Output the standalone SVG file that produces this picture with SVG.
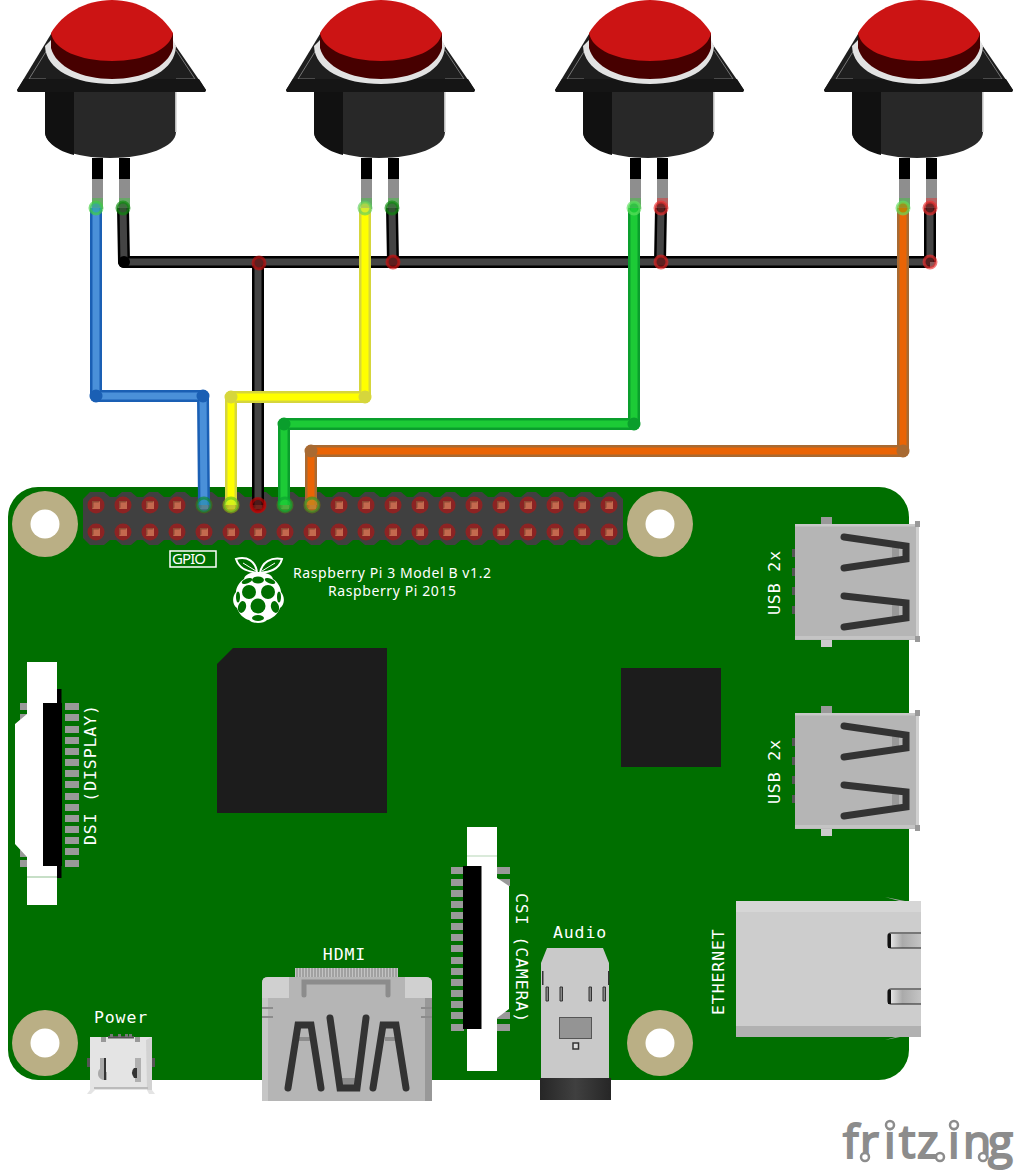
<svg xmlns="http://www.w3.org/2000/svg" width="1014" height="1170" viewBox="0 0 1014 1170">
<style>
.mono{font-family:"DejaVu Sans Mono","Liberation Mono",monospace;font-size:16.500px;letter-spacing:.9px;fill:#fff}
.sans{font-family:"Noto Sans","DejaVu Sans",sans-serif;font-size:14px;fill:#fff}
.wo{fill:none;stroke-width:12;stroke-linejoin:round;stroke-linecap:butt}
.wi{fill:none;stroke-width:7;stroke-linejoin:round;stroke-linecap:butt}
.slot{fill:none;stroke:#333;stroke-width:7;stroke-linecap:round;stroke-linejoin:miter}
.pad{fill:#999}
.ring{fill:#fff;stroke:#8c8c8c;stroke-width:2.500}
</style>
<defs>
<linearGradient id="jack"><stop offset="0" stop-color="#e8e8e8"/><stop offset=".4" stop-color="#aaa"/><stop offset="1" stop-color="#c4c4c4"/></linearGradient>
<linearGradient id="plug"><stop offset="0" stop-color="#262626"/><stop offset=".5" stop-color="#404040"/><stop offset="1" stop-color="#262626"/></linearGradient>
<g id="btn">
<path d="M51 34L17 90L18 92H205L206 90L173 42Z" fill="#1e1e1e"/>
<path d="M47 50L29 79H46M176 50L195 79H176" fill="none" stroke="#777" stroke-width="1"/>
<path d="M24 79L17 90L18 92H205L206 90L199 79Z" fill="#151515"/>
<path d="M45 92V132C45 147 75 158 110 158C146 158 176 147 176 132V92Z" fill="#282828"/>
<path d="M45 92V132C45 142 58 151 74 155V92Z" fill="#111"/>
<rect x="175" y="92" width="1.500" height="40" fill="#bbb"/>
<path d="M45 46C46 70 75 84 112 84C148 84 175 70 176 46L173 40V48L51 40Z" fill="#e2e2e2"/>
<path d="M51 33V48C56 67 82 79 112 79C142 79 168 67 173 48V33Z" fill="#470000"/>
<path d="M51 33C62 14 85 0 112 0C139 0 162 14 173 33C170 50 144 61 112 61C80 61 54 50 51 33Z" fill="#cc1414"/>
<rect x="92" y="158" width="11" height="21" fill="#000"/><rect x="92" y="179" width="11" height="30" fill="#8e8e8e"/>
<rect x="119" y="158" width="11" height="21" fill="#000"/><rect x="119" y="179" width="11" height="30" fill="#8e8e8e"/>
</g>
<g id="pin"><circle r="8.500" fill="#8c2323"/><rect x="-4" y="-4" width="8" height="8" fill="#c4694e"/><path d="M-4 -4h8l-1.500 1.500h-5v5l-1.500 1.500z" fill="#8f4a35"/></g>
<g id="hole"><circle r="33" fill="#baaf85"/><circle r="14.500" fill="#fff"/></g>
<g id="usb">
<rect x="821" y="517" width="11" height="8" fill="#999"/><rect x="821" y="639" width="11" height="8" fill="#ccc"/>
<path d="M792 549h3v8h-3zM792 568h3v8h-3zM792 587h3v8h-3zM792 606h3v8h-3z" fill="#555"/>
<rect x="795" y="524" width="122" height="116" fill="#b5b5b5"/>
<rect x="795" y="524" width="122" height="2.500" fill="#c8c8c8"/><rect x="795" y="636" width="122" height="3.500" fill="#c4c4c4"/>
<rect x="916" y="524" width="3" height="116" fill="#d0d0d0"/>
<rect x="915" y="521" width="5" height="6" fill="#999"/><rect x="915" y="636" width="5" height="6" fill="#999"/>
<rect x="892" y="546" width="7" height="12" fill="#999"/><rect x="892" y="604" width="7" height="13" fill="#999"/>
<path class="slot" d="M844 537L906 546V559L844 568"/><path class="slot" d="M844 596L906 603V618L844 627"/>
</g>
</defs>

<g id="board">
<rect x="8" y="487" width="901" height="593" rx="30" fill="#006f00"/>
<use href="#hole" x="45" y="524"/><use href="#hole" x="660" y="524"/><use href="#hole" x="45" y="1043"/><use href="#hole" x="660" y="1043"/>
</g>

<g id="gpio">
<path fill="#404040" d="M90 492H104L110 497H116L122 492H131L137 497H143L149 492H158L164 497H170L176 492H185L191 497H197L203 492H212L218 497H224L230 492H239L245 497H251L257 492H266L272 497H278L284 492H293L299 497H305L311 492H320L326 497H332L338 492H347L353 497H359L365 492H374L380 497H386L392 492H401L407 497H413L419 492H428L434 497H440L446 492H455L461 497H467L473 492H482L488 497H494L500 492H509L515 497H521L527 492H536L542 497H548L554 492H563L569 497H575L581 492H590L596 497H602L608 492H616L623 499V538L616 545H608L602 540H596L590 545H581L575 540H569L563 545H554L548 540H542L536 545H527L521 540H515L509 545H500L494 540H488L482 545H473L467 540H461L455 545H446L440 540H434L428 545H419L413 540H407L401 545H392L386 540H380L374 545H365L359 540H353L347 545H338L332 540H326L320 545H311L305 540H299L293 545H284L278 540H272L266 545H257L251 540H245L239 545H230L224 540H218L212 545H203L197 540H191L185 545H176L170 540H164L158 545H149L143 540H137L131 545H122L116 540H110L104 545H90L83 538V499Z"/>
<g id="pins">
<use href="#pin" x="96" y="505"/><use href="#pin" x="123" y="505"/><use href="#pin" x="150" y="505"/><use href="#pin" x="177" y="505"/><use href="#pin" x="204" y="505"/><use href="#pin" x="231" y="505"/><use href="#pin" x="258" y="505"/><use href="#pin" x="285" y="505"/><use href="#pin" x="312" y="505"/><use href="#pin" x="339" y="505"/><use href="#pin" x="366" y="505"/><use href="#pin" x="393" y="505"/><use href="#pin" x="420" y="505"/><use href="#pin" x="447" y="505"/><use href="#pin" x="474" y="505"/><use href="#pin" x="501" y="505"/><use href="#pin" x="528" y="505"/><use href="#pin" x="555" y="505"/><use href="#pin" x="582" y="505"/><use href="#pin" x="609" y="505"/>
<use href="#pin" x="96" y="532"/><use href="#pin" x="123" y="532"/><use href="#pin" x="150" y="532"/><use href="#pin" x="177" y="532"/><use href="#pin" x="204" y="532"/><use href="#pin" x="231" y="532"/><use href="#pin" x="258" y="532"/><use href="#pin" x="285" y="532"/><use href="#pin" x="312" y="532"/><use href="#pin" x="339" y="532"/><use href="#pin" x="366" y="532"/><use href="#pin" x="393" y="532"/><use href="#pin" x="420" y="532"/><use href="#pin" x="447" y="532"/><use href="#pin" x="474" y="532"/><use href="#pin" x="501" y="532"/><use href="#pin" x="528" y="532"/><use href="#pin" x="555" y="532"/><use href="#pin" x="582" y="532"/><use href="#pin" x="609" y="532"/>
</g>
<rect x="170" y="551" width="46" height="16" fill="none" stroke="#fff" stroke-width="1.500"/>
<text class="sans" x="172" y="564" style="font-size:15px" textLength="34">GPIO</text>
</g>

<g id="logo">
<path d="M257 573C250 571 240 571 236 559C247 556 256 561 257 573ZM260 573C262 562 271 557 282 559C279 570 269 572 260 573Z" fill="#006f00" stroke="#fff" stroke-width="2"/>
<path d="M243 563L256 571M262 571L275 563" stroke="#fff" stroke-width="1" fill="none"/>
<path d="M258 572C264 572 272 574 273 579C278 582 281 588 281 592C285 597 285 604 280 608C278 614 272 619 267 620C264 624 252 624 249 620C244 619 239 614 237 608C232 604 232 597 236 592C236 588 239 582 244 579C245 574 252 572 258 572Z" fill="#fff"/>
<g fill="#006f00">
<ellipse cx="258" cy="580" rx="6" ry="3.500"/><ellipse cx="247" cy="581" rx="5.500" ry="2.500" transform="rotate(-20 247 581)"/><ellipse cx="270" cy="581" rx="5.500" ry="2.500" transform="rotate(20 270 581)"/>
<circle cx="249" cy="592" r="7"/><circle cx="268" cy="592" r="7"/><circle cx="258" cy="606" r="7.500"/>
<ellipse cx="242" cy="607" rx="4" ry="6" transform="rotate(15 242 607)"/><ellipse cx="275" cy="607" rx="4" ry="6" transform="rotate(-15 275 607)"/>
<ellipse cx="258" cy="618" rx="6" ry="3"/>
<ellipse cx="238" cy="597" rx="2" ry="5.500"/><ellipse cx="279" cy="597" rx="2" ry="5.500"/>
</g>
</g>
<g id="board-labels">
<text class="sans" x="392" y="578" text-anchor="middle" textLength="198">Raspberry Pi 3 Model B v1.2</text>
<text class="sans" x="392" y="596" text-anchor="middle" textLength="128">Raspberry Pi 2015</text>
</g>

<g id="chips">
<path d="M233 648H387V813H217V664Z" fill="#1c1c1c"/>
<rect x="621" y="668" width="100" height="99" fill="#1c1c1c"/>
</g>

<g id="dsi">
<path class="pad" d="M20 703h8v7h-8zM20 714h8v7h-8zM20 850h8v7h-8zM20 860h8v7h-8z"/>
<path class="pad" d="M65 703h14v7h-14zM65 714h14v7h-14zM65 726h14v7h-14zM65 737h14v7h-14zM65 748h14v7h-14zM65 759h14v7h-14zM65 770h14v7h-14zM65 781h14v7h-14zM65 793h14v7h-14zM65 804h14v7h-14zM65 815h14v7h-14zM65 826h14v7h-14zM65 837h14v7h-14zM65 848h14v7h-14zM65 860h14v7h-14z"/>
<rect x="57" y="689" width="4.500" height="189" fill="#000"/>
<path d="M27 662H57V703H43V866H57V905H27V857L15 844V724L27 714Z" fill="#fff"/>
<rect x="43" y="703" width="19" height="163" fill="#000"/>
<rect x="27" y="876.500" width="30" height="1" fill="#8fbf8f"/>
<text class="mono" transform="translate(96 845) rotate(-90)">DSI (DISPLAY)</text>
</g>

<g id="csi">
<path class="pad" d="M451 867h13v7h-13zM451 879h13v7h-13zM451 890h13v7h-13zM451 901h13v7h-13zM451 912h13v7h-13zM451 923h13v7h-13zM451 934h13v7h-13zM451 945h13v7h-13zM451 957h13v7h-13zM451 968h13v7h-13zM451 979h13v7h-13zM451 990h13v7h-13zM451 1001h13v7h-13zM451 1012h13v7h-13zM451 1024h13v7h-13z"/>
<path class="pad" d="M497 867h13v7h-13zM497 879h13v7h-13zM497 1012h13v7h-13zM497 1024h13v7h-13z"/>
<path d="M467 827H497V878L509 886V1009L497 1018V1071H467Z" fill="#fff"/>
<rect x="463" y="866" width="18.500" height="163" fill="#000"/>
<rect x="467" y="855.500" width="30" height="1" fill="#b5d6b5"/>
<text class="mono" transform="translate(516 893) rotate(90)">CSI (CAMERA)</text>
</g>

<g id="audio">
<path d="M547 948H603L609 963V1078H541V963Z" fill="#c9c9c9"/>
<rect x="540" y="1078" width="71" height="22" fill="url(#plug)"/>
<rect x="559.500" y="1017.500" width="32" height="21" fill="#949494" stroke="#555"/>
<rect x="573" y="1043" width="5.500" height="6" fill="#ddd" stroke="#333" stroke-width="1.500"/>
<path d="M542 971h1.500v14H542zM608 971h1.500v14H608z" fill="#333"/>
<path d="M546 987h2.500v14H546zM560 987h2.500v14H560zM589 987h2.500v14H589zM603 987h2.500v14H603z" fill="#888" stroke="#333"/>
<text class="mono" x="580" y="938" text-anchor="middle">Audio</text>
</g>

<g id="hdmi">
<rect x="295" y="968" width="103" height="10" fill="#c4c4c4"/>
<path d="M297 968v10M300 968v10M303 968v10M306 968v10M309 968v10M312 968v10M315 968v10M318 968v10M321 968v10M324 968v10M327 968v10M330 968v10M333 968v10M336 968v10M339 968v10M342 968v10M345 968v10M348 968v10M351 968v10M354 968v10M357 968v10M360 968v10M363 968v10M366 968v10M369 968v10M372 968v10M375 968v10M378 968v10M381 968v10M384 968v10M387 968v10M390 968v10M393 968v10M396 968v10" stroke="#7f7f7f" stroke-width="1"/>
<path d="M262 983Q262 977 268 977H426Q432 977 432 983V1101H262Z" fill="#b5b5b5"/>
<path d="M262 998V983Q262 977 268 977H289V998ZM432 998V983Q432 977 426 977H405V998Z" fill="#d0d0d0"/>
<rect x="262" y="998" width="6" height="103" fill="#c6c6c6"/><rect x="425" y="998" width="7" height="103" fill="#989898"/>
<path d="M304 995V982H388V995" fill="none" stroke="#8c8c8c" stroke-width="5" stroke-linecap="round"/>
<path d="M262 1008h11M262 1017h11M421 1008h11M421 1017h11" stroke="#8c8c8c" stroke-width="2"/>
<path d="M298 1037h12v4h-12zM385 1037h11v4h-11zM342 1078h13v8h-13z" fill="#8c8c8c"/>
<path class="slot" d="M288 1088L298 1025H311L321 1088"/>
<path class="slot" d="M330 1018L340 1088H357L366 1018"/>
<path class="slot" d="M373 1088L383 1025H396L406 1088"/>
<text class="mono" x="344.500" y="960" text-anchor="middle">HDMI</text>
</g>

<g id="power">
<path d="M87 1058h3v9h-3zM152 1058h3v9h-3z" fill="#555"/>
<path d="M90 1037H152V1090L155 1094H149L147 1090H95L91 1094H87L90 1090Z" fill="#e4e4e4"/>
<path d="M146 1040L152 1037V1090H147Z" fill="#d2d2d2"/>
<path d="M101 1037h5v5h-5zM135 1037h5v5h-5z" fill="#999"/>
<rect x="108" y="1036" width="26" height="2.500" fill="#555"/>
<path d="M110 1034h3v3h-3zM118 1034h3v3h-3zM125 1034h3v3h-3zM132 1034h-3v3h3z" fill="#777"/>
<path d="M100 1058h4v14h3v8h-4q-5-2-5-6t2-5z" fill="#aaa"/><path d="M104 1058h2v22h-2z" fill="#333"/>
<path d="M135 1058h6v24h-6z" fill="#b0b0b0"/><path d="M135 1068h-1q-4 4 0 10h3v-10z" fill="#333"/>
<rect x="94" y="1087" width="54" height="2" fill="#bbb"/>
<text class="mono" x="121" y="1023" text-anchor="middle">Power</text>
</g>

<g id="usb1"><use href="#usb"/><text class="mono" transform="translate(780 615) rotate(-90)">USB 2x</text></g>
<g id="usb2"><use href="#usb" y="189"/><text class="mono" transform="translate(780 804) rotate(-90)">USB 2x</text></g>

<g id="ethernet">
<path d="M885 897L905 901H899ZM885 1040L905 1036H899Z" fill="#aaa"/>
<rect x="736" y="901" width="185" height="136" fill="#cdcdcd"/>
<rect x="736" y="901" width="185" height="11" fill="#d6d6d6"/><rect x="736" y="1026" width="185" height="11" fill="#b1b1b1"/>
<rect x="890" y="934" width="31" height="14" fill="url(#jack)"/><rect x="890" y="990" width="31" height="14" fill="url(#jack)"/>
<path d="M921 933H891Q888 933 888 936V945Q888 948 891 948H921M921 989H891Q888 989 888 992V1001Q888 1004 891 1004H921" fill="none" stroke="#222" stroke-width="1.200"/>
<rect x="888" y="934" width="3" height="14" fill="#111"/><rect x="888" y="990" width="3" height="14" fill="#111"/>
<text class="mono" transform="translate(724 1015) rotate(-90)">ETHERNET</text>
</g>

<g id="button1"><use href="#btn"/></g>
<g id="button2"><use href="#btn" x="269"/></g>
<g id="button3"><use href="#btn" x="538"/></g>
<g id="button4"><use href="#btn" x="807"/></g>

<g id="connectors">
<g id="terminals" fill-opacity=".4">
<rect x="92" y="198" width="11" height="9" fill="#30d030"/><rect x="119" y="198" width="11" height="9" fill="#30d030"/>
<rect x="361" y="198" width="11" height="9" fill="#30d030"/><rect x="388" y="198" width="11" height="9" fill="#30d030"/>
<rect x="630" y="198" width="11" height="9" fill="#30d030"/><rect x="657" y="198" width="11" height="9" fill="#f02020"/>
<rect x="899" y="198" width="11" height="9" fill="#30d030"/><rect x="926" y="198" width="11" height="9" fill="#f02020"/>
</g>
<g id="wire-common">
<path class="wo" stroke="#000" d="M123 208L124 262H930M930 208V262M392 208L393 262M661 208L660 262M258 263V505"/>
<path class="wi" stroke="#444" d="M123 208L124 262H930M930 208V262M392 208L393 262M661 208L660 262M258 263V505"/>
</g>
<g id="wire-blue"><path class="wo" stroke="#1a5fb4" d="M96 208V396H203L204 505"/><path class="wi" stroke="#4a90d9" d="M96 208V396H203L204 505"/></g>
<g id="wire-yellow"><path class="wo" stroke="#d6d63c" d="M365 208V397H231V505"/><path class="wi" stroke="#ff0" d="M365 208V397H231V505"/></g>
<g id="wire-green"><path class="wo" stroke="#0a9e2c" d="M634 208V424H284V505"/><path class="wi" stroke="#1ccb36" d="M634 208V424H284V505"/></g>
<g id="wire-orange"><path class="wo" stroke="#a86a32" d="M903 208V451H311V505"/><path class="wi" stroke="#ea6405" d="M903 208V451H311V505"/></g>
<g id="joints">
<circle cx="124" cy="262" r="6" fill="#000"/>
<circle cx="96" cy="396" r="6.500" fill="#1a5fb4"/><circle cx="203" cy="396" r="6.500" fill="#1a5fb4"/>
<circle cx="365" cy="397" r="6.500" fill="#d6d63c"/><circle cx="231" cy="397" r="6.500" fill="#d6d63c"/>
<circle cx="634" cy="424" r="6.500" fill="#0a9e2c"/><circle cx="284" cy="424" r="6.500" fill="#0a9e2c"/>
<circle cx="903" cy="451" r="6.500" fill="#a86a32"/><circle cx="311" cy="451" r="6.500" fill="#a86a32"/>
</g>
<g id="leg-ends" stroke-width="3" fill-opacity=".7" stroke-opacity=".65">
<circle cx="96" cy="208" r="6" fill="#2ea6a6" stroke="#3fd03f"/><circle cx="123" cy="208" r="6" fill="#2a5a2a" stroke="#0a8a0a"/>
<circle cx="365" cy="208" r="6" fill="#c8e63c" stroke="#5fd05f"/><circle cx="392" cy="208" r="6" fill="#2a5a2a" stroke="#0a8a0a"/>
<circle cx="634" cy="208" r="6" fill="#1ccb36" stroke="#60e060"/><circle cx="661" cy="208" r="6" fill="#5a0f0f" stroke="#ee3030"/>
<circle cx="903" cy="208" r="6" fill="#b08a00" stroke="#60e060"/><circle cx="930" cy="208" r="6" fill="#5a0f0f" stroke="#ee3030"/>
<circle cx="259" cy="263" r="6" fill="#6a1010" stroke="#c01010"/><circle cx="393" cy="262" r="6" fill="#6a1010" stroke="#d01010"/><circle cx="661" cy="262" r="6" fill="#6a1010" stroke="#e02020"/><circle cx="930" cy="262" r="6" fill="#5a0f0f" stroke="#ee3030"/>
<circle cx="204" cy="505" r="7" fill="#2a8fb0" stroke="#0a8a2a"/><circle cx="231" cy="505" r="7" fill="#c8f020" stroke="#60c020"/><circle cx="258" cy="505" r="6.500" fill="#500808" stroke="#c00000"/><circle cx="285" cy="505" r="7" fill="#1ccb36" stroke="#0aa030"/><circle cx="312" cy="505" r="7" fill="#c08a20" stroke="#2a9a2a"/>
</g>
</g>

<g id="fritzing">
<text x="843 860 884 899 917 948 963 988" y="1158" font-family="'Open Sans',Lato,sans-serif" font-size="46" fill="#8c8c8c" stroke="#8c8c8c" stroke-width="2">fritzing</text>
<circle class="ring" cx="890" cy="1125" r="4"/><circle class="ring" cx="954" cy="1125" r="4"/>
<circle class="ring" cx="865" cy="1157" r="4"/><circle class="ring" cx="940" cy="1157" r="4"/><circle class="ring" cx="983" cy="1157" r="4"/>
</g>
</svg>
